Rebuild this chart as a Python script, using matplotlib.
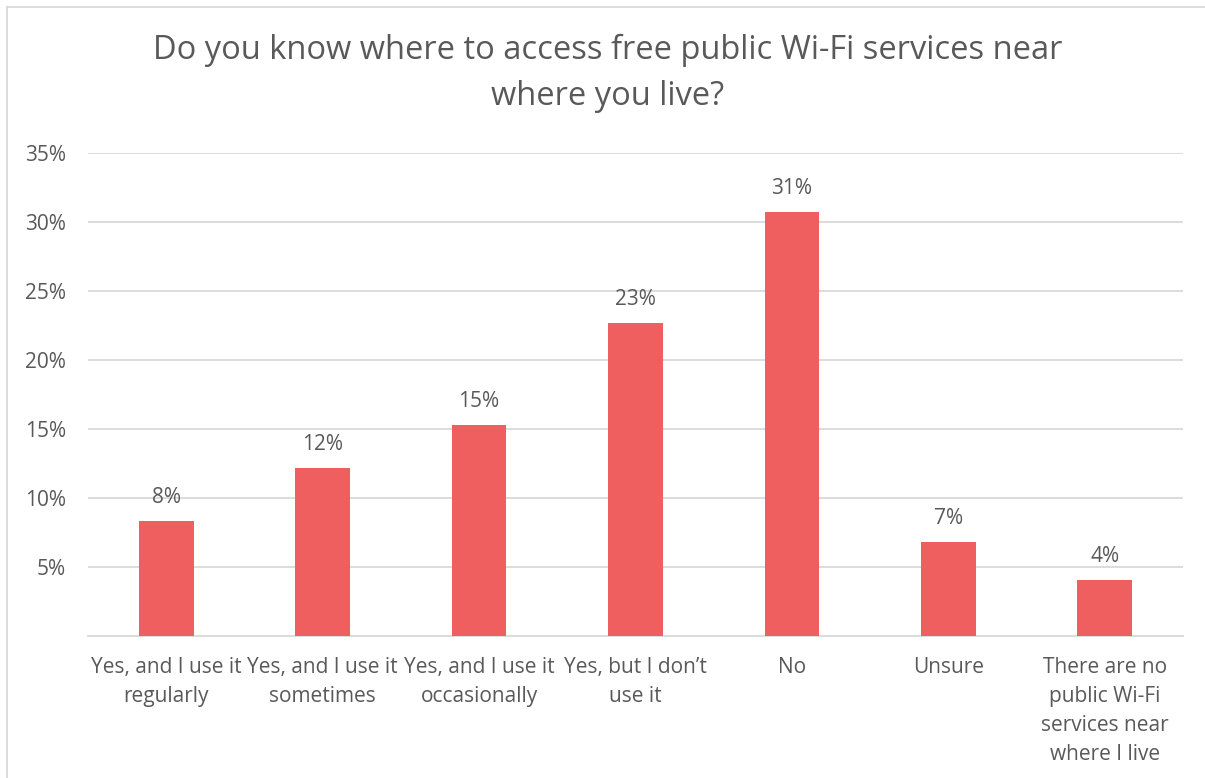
import matplotlib.pyplot as plt
from matplotlib.lines import Line2D
import numpy as np

plt.rcParams['font.family'] = ['Open Sans', 'DejaVu Sans']

# data
categories = ['Yes, and I use it\nregularly', 'Yes, and I use it\nsometimes',
              'Yes, and I use it\noccasionally', 'Yes, but I don\u2019t\nuse it', 'No',
              'Unsure', 'There are no\npublic Wi-Fi\nservices near\nwhere I live']
values = [8.3, 12.2, 15.3, 22.7, 30.7, 6.8, 4.05]
labels = ['8%', '12%', '15%', '23%', '31%', '7%', '4%']
yticks = [5, 10, 15, 20, 25, 30, 35]

txt = '#595959'
bar_col = '#F05F5F'
grid_col = '#D9D9D9'

fig = plt.figure(figsize=(12.05, 7.78), dpi=100, facecolor='white')
ax = fig.add_axes([88/1205, 1-636/778, (1183-88)/1205, (636-153)/778])

x = np.arange(len(categories))
ax.bar(x, values, width=0.35, color=bar_col, zorder=3)
for xi, v, l in zip(x, values, labels):
    ax.text(xi, v + 0.95, l, ha='center', va='bottom', fontsize=15, color=txt)

ax.set_xlim(-0.5, len(categories) - 0.5)
ax.set_ylim(0, 35)
ax.set_yticks(yticks)
ax.set_yticklabels(['%d%%' % t for t in yticks], fontsize=15, color=txt)
ax.yaxis.grid(True, color=grid_col, linewidth=1.3, zorder=0)
ax.set_xticks(x)
ax.set_xticklabels(categories, fontsize=15, color=txt, linespacing=1.5, va='top')
ax.tick_params(axis='both', length=0)
ax.tick_params(axis='x', pad=15)
ax.tick_params(axis='y', pad=16)
for s in ['top', 'right', 'left']:
    ax.spines[s].set_visible(False)
ax.spines['bottom'].set_color(grid_col)
ax.spines['bottom'].set_linewidth(1.3)

fig.text(608/1205, 1-73.5/778, 'Do you know where to access free public Wi-Fi services near\nwhere you live?',
         ha='center', va='center', fontsize=23.5, color=txt, linespacing=1.5)

# chart border (top and left edges visible)
fig.add_artist(Line2D([7/1205, 1], [1-7/778, 1-7/778], color=grid_col, linewidth=1.3))
fig.add_artist(Line2D([7/1205, 7/1205], [0, 1-7/778], color=grid_col, linewidth=1.3))

fig.savefig('out.png', dpi=100, facecolor='white')
